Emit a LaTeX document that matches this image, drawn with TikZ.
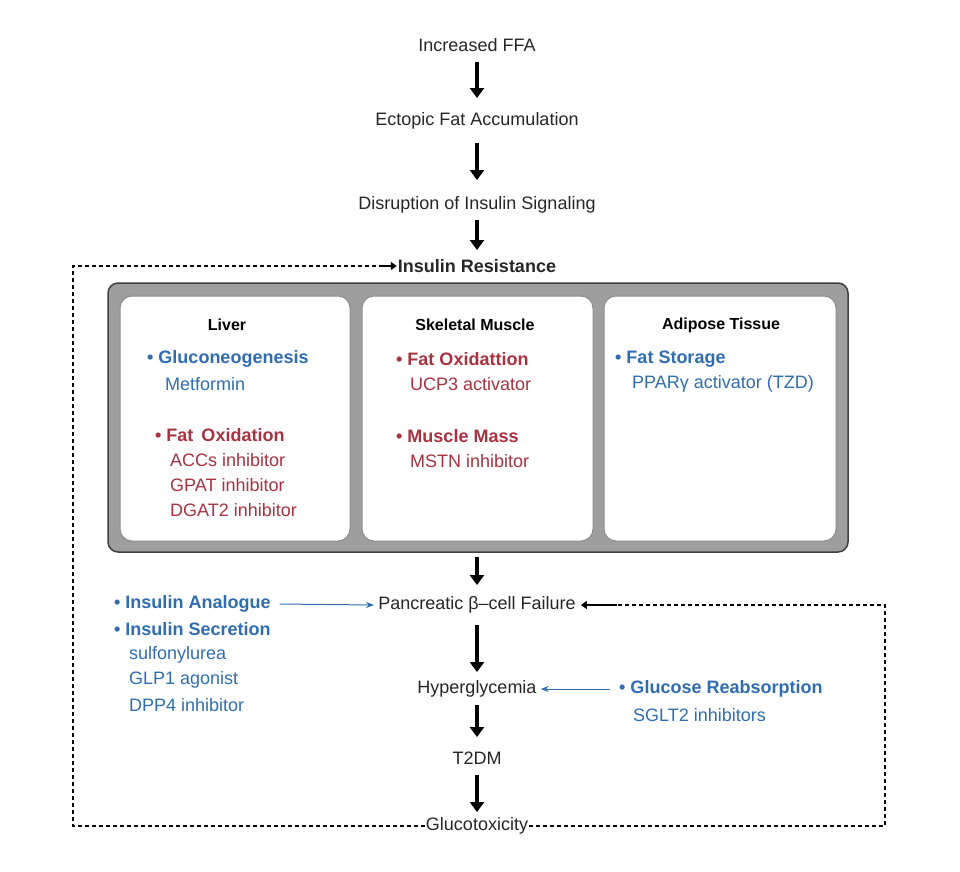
\documentclass[tikz,border=0pt]{standalone}
\usepackage{fontspec}
\setmainfont{Liberation Sans}
\usetikzlibrary{arrows.meta}
\definecolor{tblue}{HTML}{2F6DB0}
\definecolor{tred}{HTML}{A83240}
\begin{document}
\begin{tikzpicture}[x=1pt,y=-1pt,
  txt/.style={font=\fontsize{18}{21}\selectfont, inner sep=1pt, text=black!85},
  ttl/.style={font=\fontsize{16}{19}\selectfont\bfseries, inner sep=1pt},
  bl/.style={txt,text=tblue,anchor=west},
  blb/.style={txt,text=tblue,anchor=west,font=\fontsize{18}{21}\selectfont\bfseries},
  rd/.style={txt,text=tred,anchor=west},
  rdb/.style={txt,text=tred,anchor=west,font=\fontsize{18}{21}\selectfont\bfseries},
  big/.style={line width=3.6pt,-{Triangle[length=10pt,width=14pt]}},
  dsh/.style={line width=1.8pt,dashed,dash pattern=on 4pt off 3pt},
  thin/.style={tblue,line width=1pt,-{Stealth[length=8pt]}}]
\useasboundingbox (0,0) rectangle (960,871);
\node[txt] (ffa) at (477,45) {Increased FFA};
\node[txt] (efa) at (477,121) {Ectopic Fat Accumulation};
\node[txt] (dis) at (477,205) {Disruption of Insulin Signaling};
\node[txt,font=\fontsize{18}{21}\selectfont\bfseries] (ir) at (477,266) {Insulin Resistance};
\draw[big] (477,62) -- (477,98);
\draw[big] (477,143) -- (477,180);
\draw[big] (477,220) -- (477,250);
\draw[rounded corners=10pt, fill=black!38, draw=black!75, line width=1.5pt] (108,283) rectangle (848,552);
\foreach \a/\b in {120/350,362/593,604/836}
  \draw[rounded corners=12pt, fill=white, draw=black!45, line width=1pt] (\a,296) rectangle (\b,541);
\node[ttl] (lv) at (227,325) {Liver};
\node[ttl] (sm) at (475,325) {Skeletal Muscle};
\node[ttl] (at) at (721,325) {Adipose Tissue};
\node[blb] (g1) at (146,359) {• Gluconeogenesis};
\node[bl] (g2) at (164,384) {Metformin};
\node[rdb] (l1) at (154,435) {• Fat\, Oxidation};
\node[rd] (l2) at (169,460) {ACCs inhibitor};
\node[rd] (l3) at (169,485) {GPAT inhibitor};
\node[rd] (l4) at (169,510) {DGAT2 inhibitor};
\node[rdb] (s1) at (395,359) {• Fat Oxidattion};
\node[rd] (s2) at (409,384) {UCP3 activator};
\node[rdb] (s3) at (395,436) {• Muscle Mass};
\node[rd] (s4) at (409,461) {MSTN inhibitor};
\node[blb] (a1) at (614,359) {• Fat Storage};
\node[bl] (a2) at (631,384) {PPARγ activator (TZD)};
\node[txt] (pb) at (477,605) {Pancreatic β–cell Failure};
\node[txt] (hg) at (477,689) {Hyperglycemia};
\node[txt] (t2) at (477,758) {T2DM};
\node[txt] (gt) at (477,826) {Glucotoxicity};
\draw[big] (477,557) -- (477,585);
\draw[big] (477,625) -- (477,672);
\draw[big] (477,705) -- (477,737);
\draw[big] (477,775) -- (477,812);
\node[blb] (ia) at (113,604) {• Insulin Analogue};
\node[blb] (is) at (113,629) {• Insulin Secretion};
\node[bl] (i1) at (128,655) {sulfonylurea};
\node[bl] (i2) at (128,680) {GLP1 agonist};
\node[bl] (i3) at (128,705) {DPP4 inhibitor};
\node[blb] (gr) at (618,689) {• Glucose Reabsorption};
\node[bl] (sg) at (632,715) {SGLT2 inhibitors};
\draw[thin] (ia.east) ++(8,0) -- ([xshift=-3pt]pb.west);
\draw[thin] (gr.west) ++(-8,0) -- ([xshift=3pt]hg.east);
\draw[dsh] (gt.west) -- (73,826) -- (73,266) -- ++(310,0);
\draw[line width=1.8pt,-{Triangle[length=6pt,width=8pt]}] (380,266) -- (ir.west);
\draw[dsh] (gt.east) -- (885,826) -- (885,605) -- ++(-270,0);
\draw[line width=1.8pt,-{Triangle[length=6pt,width=8pt]}] (617,605) -- ([xshift=4pt]pb.east);
\end{tikzpicture}
\end{document}
